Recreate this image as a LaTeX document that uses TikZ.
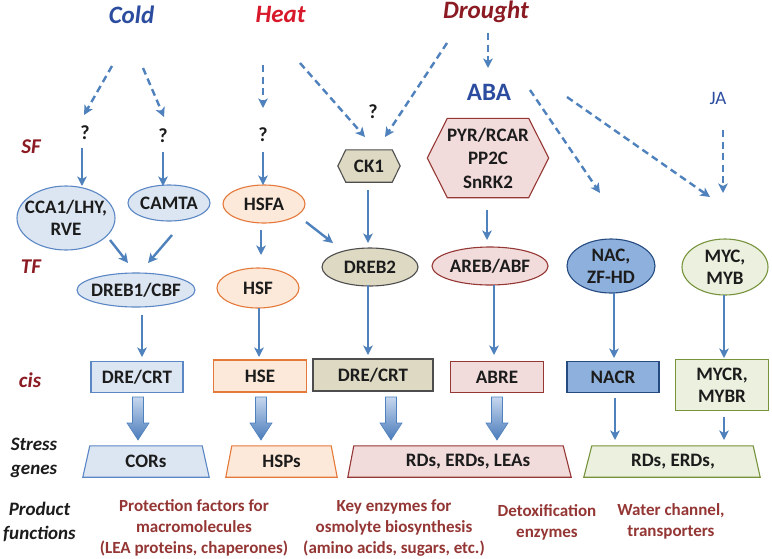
\documentclass[tikz,border=0pt]{standalone}
\usepackage{fontspec}
\setmainfont{Carlito}
\usetikzlibrary{arrows.meta,shapes.geometric,calc,backgrounds}
\definecolor{arrblue}{HTML}{4F81BD}
\definecolor{bfl}{HTML}{C6D7EE}
\definecolor{bfd}{HTML}{4A7BBB}
\definecolor{coldblue}{HTML}{2B4C9F}
\definecolor{heatred}{HTML}{D7192B}
\definecolor{drred}{HTML}{8B1A22}
\definecolor{abablue}{HTML}{2B4C9F}
\definecolor{labred}{HTML}{8B1A22}
\definecolor{prodred}{HTML}{943634}
\definecolor{txt}{HTML}{1C1C1C}
\definecolor{cfill}{HTML}{DCE6F2}
\definecolor{cdraw}{HTML}{5B87C5}
\definecolor{hfill}{HTML}{FDE9D9}
\definecolor{hdraw}{HTML}{E5793A}
\definecolor{dfill}{HTML}{DDD9C3}
\definecolor{ddraw}{HTML}{4D4D4D}
\definecolor{afill}{HTML}{F2DCDB}
\definecolor{adraw}{HTML}{953735}
\definecolor{nfill}{HTML}{8EB0DC}
\definecolor{ndraw}{HTML}{244A80}
\definecolor{mfill}{HTML}{EBF1DE}
\definecolor{mdraw}{HTML}{77933C}
\begin{document}
\begin{tikzpicture}[x=1pt,y=-1pt,
  lbl/.style={font=\fontsize{19}{22}\selectfont\bfseries, text=txt, align=center},
  ell/.style={ellipse, lbl, draw, line width=1.1pt, inner sep=-10pt},
  rbox/.style={rectangle, lbl, draw, line width=1.1pt, inner sep=0pt},
  plain/.style={lbl, inner sep=0pt},
  sCold/.style={fill=cfill, draw=cdraw},
  sHeat/.style={fill=hfill, draw=hdraw},
  sDr/.style={fill=dfill, draw=ddraw},
  sAba/.style={fill=afill, draw=adraw},
  sNac/.style={fill=nfill, draw=ndraw},
  sMyc/.style={fill=mfill, draw=mdraw},
  shp/.style={line width=1.1pt},
  arr/.style={draw=arrblue, line width=2.4pt, -{Stealth[length=9.5pt,width=9.5pt,inset=2.5pt]}},
  darr/.style={arr, dash pattern=on 7pt off 4.5pt},
  qm/.style={font=\fontsize{20}{22}\selectfont\bfseries, text=txt, inner sep=1pt},
  side/.style={font=\fontsize{21}{24}\selectfont\bfseries\itshape, text=labred},
  side2/.style={font=\fontsize{19}{24}\selectfont\bfseries\itshape, text=txt, align=center},
  prod/.style={font=\fontsize{17}{21}\selectfont\bfseries, text=prodred, align=center},
  title/.style={font=\fontsize{25}{28}\selectfont\bfseries\itshape},
  barrow/.pic={\shade[top color=bfl, bottom color=bfd, draw=arrblue, line width=0.6pt]
     (-5.5,0) -- (5.5,0) -- (5.5,26) -- (11,26) -- (0,43) -- (-11,26) -- (-5.5,26) -- cycle;}
]
\useasboundingbox (0,0) rectangle (772,558);

% titles
\node[title, text=coldblue] (cold) at (131.5,15) {Cold};
\node[title, text=heatred] (heat) at (280.5,14) {Heat};
\node[title, text=drred] (drought) at (486,12) {Drought};
\node[font=\fontsize{25}{28}\selectfont\bfseries, text=abablue] (aba) at (489,92) {ABA};
\node[font=\fontsize{19}{22}\selectfont, text=abablue] (ja) at (718,98) {JA};

% side labels
\node[side] (sf) at (31,147) {SF};
\node[side] (tf) at (31,267) {TF};
\node[side] (cis) at (30,380) {cis};
\node[side2] (stress) at (34,458) {Stress\\genes};
\node[side2] (product) at (39.5,522) {Product\\functions};

% question marks
\node[qm] (q1) at (85,133) {?};
\node[qm] (q2) at (163,136) {?};
\node[qm] (q3) at (263,135) {?};
\node[qm] (q4) at (373,112) {?};

% SF / TF ellipses
\node[ell, sCold, minimum width=98pt, minimum height=64pt] (cca1) at (66,218) {CCA1/LHY,\\RVE};
\node[ell, sCold, minimum width=82pt, minimum height=36pt] (camta) at (169,203) {CAMTA};
\node[ell, sHeat, minimum width=82pt, minimum height=38pt] (hsfa) at (264,204) {HSFA};
\node[ell, sCold, minimum width=118pt, minimum height=34pt] (dreb1) at (136,290) {DREB1/CBF};
\node[ell, sHeat, minimum width=82pt, minimum height=40pt] (hsf) at (258,288) {HSF};
\node[ell, sDr, minimum width=96pt, minimum height=38pt] (dreb2) at (370,267) {DREB2};
\node[ell, sAba, minimum width=116pt, minimum height=38pt] (areb) at (490,266) {AREB/ABF};
\node[ell, sNac, minimum width=88pt, minimum height=54pt] (nac) at (611,266) {NAC,\\ZF-HD};
\node[ell, sMyc, minimum width=86pt, minimum height=56pt] (myc) at (725,267) {MYC,\\MYB};

% hexagons
\node[plain, minimum width=62pt, minimum height=32pt] (ck1) at (369,166) {CK1};
\node[plain, font=\fontsize{19}{23.5}\selectfont\bfseries, minimum width=121pt, minimum height=79pt] (pyr) at (488,158) {PYR/RCAR\\PP2C\\SnRK2};

% cis boxes
\node[rbox, sCold, minimum width=92pt, minimum height=31pt] (drec) at (137,377) {DRE/CRT};
\node[rbox, sHeat, minimum width=93pt, minimum height=32pt] (hse) at (260,376) {HSE};
\node[rbox, sDr, minimum width=120pt, minimum height=32pt] (dred) at (373,375) {DRE/CRT};
\node[rbox, sAba, minimum width=93pt, minimum height=31pt] (abre) at (497,377) {ABRE};
\node[rbox, sNac, minimum width=92pt, minimum height=31pt] (nacr) at (613,377) {NACR};
\node[rbox, sMyc, minimum width=93pt, minimum height=51pt] (mycr) at (722,385) {MYCR,\\MYBR};

% stress gene trapezoids (text)
\node[plain, minimum width=126pt, minimum height=31pt] (cors) at (146,461.5) {CORs};
\node[plain, minimum width=111pt, minimum height=31pt] (hsps) at (281.5,461.5) {HSPs};
\node[plain, minimum width=223pt, minimum height=31pt] (rdl) at (468,461.5) {RDs, ERDs, LEAs};
\node[plain, minimum width=176pt, minimum height=31pt] (rde) at (673,461.5) {RDs, ERDs,};

\begin{scope}[on background layer]
  \fill[white] (0,0) rectangle (772,558);
  \filldraw[sDr, shp] (ck1.west) -- ($(ck1.north west)+(8,0)$) -- ($(ck1.north east)+(-8,0)$) -- (ck1.east)
     -- ($(ck1.south east)+(-8,0)$) -- ($(ck1.south west)+(8,0)$) -- cycle;
  \filldraw[sAba, shp] (pyr.west) -- ($(pyr.north west)+(20,0)$) -- ($(pyr.north east)+(-20,0)$) -- (pyr.east)
     -- ($(pyr.south east)+(-20,0)$) -- ($(pyr.south west)+(20,0)$) -- cycle;
  \filldraw[sCold, shp] (cors.south west) -- ($(cors.north west)+(7,0)$) -- ($(cors.north east)+(-7,0)$) -- (cors.south east) -- cycle;
  \filldraw[sHeat, shp] (hsps.south west) -- ($(hsps.north west)+(6,0)$) -- ($(hsps.north east)+(-6,0)$) -- (hsps.south east) -- cycle;
  \filldraw[sAba, shp] ($(rdl.south west)+(-8.5,0)$) -- ($(rdl.north west)+(-2.5,0)$) -- ($(rdl.north east)+(-16.5,0)$) -- ($(rdl.south east)+(-8.5,0)$) -- cycle;
  \filldraw[sMyc, shp] ($(rde.south west)+(-1,0)$) -- ($(rde.north west)+(7,0)$) -- ($(rde.north east)+(-8,0)$) -- ($(rde.south east)+(-1,0)$) -- cycle;
\end{scope}

% product functions
\node[prod] (p1) at (194,528) {Protection factors for\\macromolecules\\(LEA proteins, chaperones)};
\node[prod] (p2) at (394,528) {Key enzymes for\\osmolyte biosynthesis\\(amino acids, sugars, etc.)};
\node[prod] (p3) at (547,522.5) {Detoxification\\enzymes};
\node[prod] (p4) at (671,521) {Water channel,\\transporters};

% dashed arrows
\draw[darr] ($(cold)+(-19.5,51)$) -- ($(q1)+(-1,-18)$);
\draw[darr] ($(cold)+(11.5,53)$) -- ($(q2)+(1,-19)$);
\draw[darr] ($(heat)+(-17.5,51)$) -- ($(q3)+(0,-27)$);
\draw[darr] ($(heat)+(19.5,49)$) -- ($(ck1)+(-4,-29)$);
\draw[darr] ($(drought)+(-39,31)$) -- ($(ck1)+(16,-29)$);
\draw[darr] ($(drought)+(2,21)$) -- ($(aba)+(-1,-24)$);
\draw[darr] ($(aba)+(41,-2)$) -- ($(nac)+(-11,-73)$);
\draw[darr] ($(aba)+(78,5)$) -- ($(myc)+(-15,-70)$);
\draw[darr] ($(ja)+(5,32)$) -- ($(myc)+(-2,-74)$);

% solid arrows
\draw[arr] ($(q1)+(-3,15)$) -- ($(cca1)+(16,-32)$);
\draw[arr] ($(q2)+(0,16)$) -- ($(camta)+(-6,-17)$);
\draw[arr] ($(q3)+(0,17)$) -- ($(hsfa)+(-1,-19)$);
\draw[arr] ($(ck1)+(-1,24)$) -- ($(dreb2)+(-2,-24)$);
\draw[arr] ($(pyr)+(-1,52)$) -- ($(areb)+(-3,-26)$);
\draw[arr] ($(cca1)+(44,22)$) -- ($(dreb1)+(-8,-27)$);
\draw[arr] ($(camta)+(3,32)$) -- ($(dreb1)+(12,-27)$);
\draw[arr] ($(hsfa)+(-3,26)$) -- ($(hsf)+(3,-33)$);
\draw[arr] ($(hsfa)+(42,18)$) -- ($(dreb2)+(-37,-24)$);
\draw[arr] ($(dreb1)+(6,25)$) -- ($(drec)+(5,-20)$);
\draw[arr] ($(hsf)+(1,20)$) -- ($(hse)+(-1,-19)$);
\draw[arr] ($(dreb2)+(-2,18)$) -- ($(dred)+(-5,-20)$);
\draw[arr] ($(areb)+(4,19)$) -- ($(abre)+(-3,-22)$);
\draw[arr] ($(nac)+(3,27)$) -- ($(nacr)+(1,-19)$);
\draw[arr] ($(myc)+(-1,28)$) -- ($(mycr)+(2,-27)$);
\draw[arr] ($(nacr)+(2,21)$) -- ($(rde)+(-58,-21.5)$);
\draw[arr] ($(mycr)+(2,32)$) -- ($(rde)+(51,-21.5)$);

% block arrows
\pic at ($(drec)+(1,20)$) {barrow};
\pic at ($(hse)+(1,21)$) {barrow};
\pic at ($(dred)+(18,22)$) {barrow};
\pic at ($(abre)+(0,20)$) {barrow};
\end{tikzpicture}
\end{document}
